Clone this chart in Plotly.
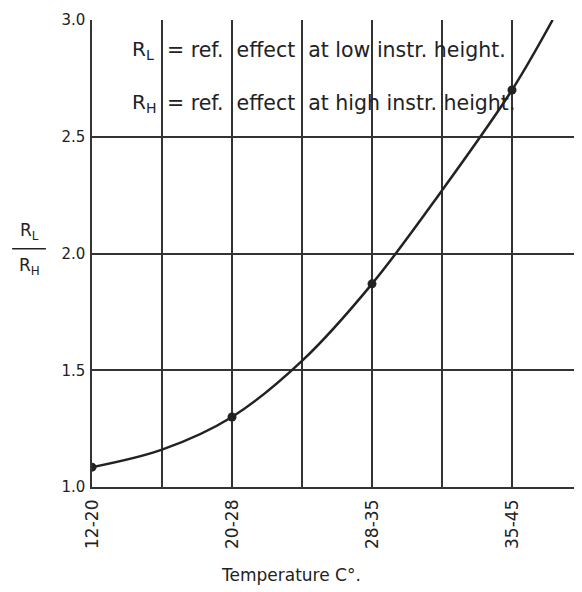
import plotly.graph_objects as go

# categories (temperature ranges) and their positions on the axis
categories = ["12-20", "20-28", "28-35", "35-45"]
cat_pos = [0, 1, 2, 3]

# measured ratios R_L / R_H
ratio = [1.085, 1.30, 1.87, 2.70]

# smooth curve drawn through the points (incl. where it leaves the top)
curve_x = [0, 0.5, 1, 1.5, 2, 2.5, 3, 3.29]
curve_y = [1.085, 1.16, 1.30, 1.54, 1.87, 2.27, 2.70, 3.0]

y_ticks = [1.0, 1.5, 2.0, 2.5, 3.0]
y_ticktext = ["1.0", "1.5", "2.0", "2.5", "3.0"]

ink = "#222222"
grid_ink = "#333333"
font_family = "DejaVu Sans"

fig = go.Figure()
fig.add_trace(go.Scatter(
    x=curve_x, y=curve_y, mode="lines",
    line=dict(color=ink, width=2.5, shape="spline", smoothing=1.0),
    hoverinfo="skip", showlegend=False,
))
fig.add_trace(go.Scatter(
    x=cat_pos, y=ratio, mode="markers",
    marker=dict(color=ink, size=9),
    showlegend=False,
))

fig.update_layout(
    width=574, height=584,
    margin=dict(l=84, r=0, t=12, b=105),
    paper_bgcolor="white", plot_bgcolor="white",
    font=dict(family=font_family, color=ink, size=15),
    xaxis=dict(
        range=[0, 3.5], automargin=False,
        tickvals=cat_pos, ticktext=categories,
        tickangle=-90, ticks="", showgrid=True,
        gridcolor=grid_ink, gridwidth=1.5,
        minor=dict(dtick=0.5, tick0=0, showgrid=True, gridcolor=grid_ink, gridwidth=1.5),
        showline=True, linecolor=grid_ink, linewidth=1.5,
        zeroline=False, tickfont=dict(size=17), ticklabelstandoff=4,
    ),
    yaxis=dict(
        range=[1.0, 3.0], automargin=False,
        tickvals=y_ticks, ticktext=y_ticktext,
        ticks="", showgrid=True, gridcolor=grid_ink, gridwidth=1.5,
        showline=True, linecolor=grid_ink, linewidth=1.5, mirror=True,
        zeroline=False, tickfont=dict(size=15), ticklabelstandoff=2,
    ),
)

# legend text block inside the chart
fig.add_annotation(x=0.27, y=2.872, xref="x", yref="y", xanchor="left",
                   text="R<sub>L</sub>", showarrow=False, font=dict(size=20, color=ink))
fig.add_annotation(x=0.52, y=2.872, xref="x", yref="y", xanchor="left",
                   text="= ref.  effect  at low instr. height.",
                   showarrow=False, font=dict(size=20.5, color=ink))
fig.add_annotation(x=0.27, y=2.645, xref="x", yref="y", xanchor="left",
                   text="R<sub>H</sub>", showarrow=False, font=dict(size=20, color=ink))
fig.add_annotation(x=0.52, y=2.645, xref="x", yref="y", xanchor="left",
                   text="= ref.  effect  at high instr. height.",
                   showarrow=False, font=dict(size=20.5, color=ink))

# y axis title as a fraction
fig.add_annotation(x=-0.127, y=0.548, xref="paper", yref="paper", xanchor="center",
                   text="R<sub>L</sub>", showarrow=False, font=dict(size=17, color=ink))
fig.add_annotation(x=-0.127, y=0.472, xref="paper", yref="paper", xanchor="center",
                   text="R<sub>H</sub>", showarrow=False, font=dict(size=17, color=ink))
fig.add_shape(type="line", xref="paper", yref="paper",
              x0=-0.163, x1=-0.094, y0=0.51, y1=0.51,
              line=dict(color=ink, width=1.5))

# x axis title
fig.add_annotation(x=(291 - 92) / 490, y=-0.188, xref="paper", yref="paper",
                   text="Temperature C°.", showarrow=False,
                   font=dict(size=17, color=ink), yanchor="middle")

fig.write_html("out.html")
